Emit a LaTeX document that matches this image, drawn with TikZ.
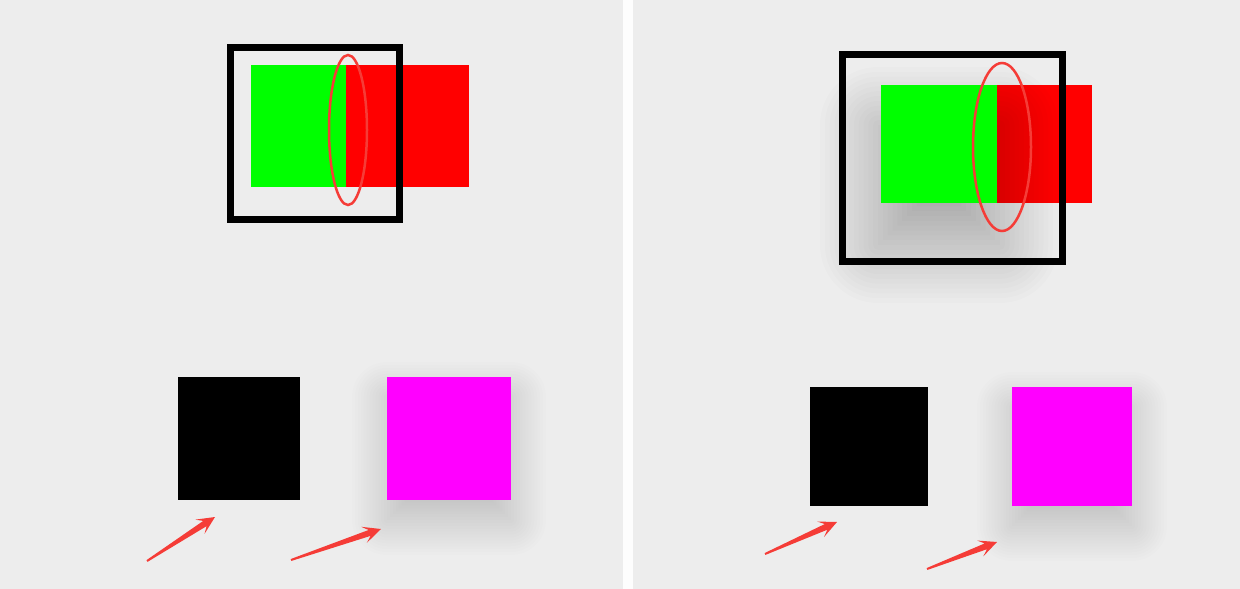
\documentclass[tikz,border=0pt]{standalone}
\usetikzlibrary{calc}
\definecolor{panelbg}{HTML}{EDEDED}
\definecolor{sepwhite}{HTML}{FDFDFD}
\definecolor{pgreen}{HTML}{00FF00}
\definecolor{pred}{HTML}{FF0000}
\definecolor{pmagenta}{HTML}{FF00FF}
\definecolor{markred}{RGB}{245,60,55}
\tikzset{
  frame/.style={draw=black, line width=7pt},
  mark ellipse/.style={draw=markred, line width=2.5pt},
  swatch/.style={fill=#1},
}
% soft blurred shadow: x1,y1,x2,y2,blur,alpha
\newcommand{\softshadow}[6]{%
  \pgfmathsetmacro\shA{1-(1-#6)^(1/24)}%
  \foreach \k in {1,...,24}{%
    \pgfmathsetmacro\shE{#5*(2*\k/24-1)}%
    \pgfmathsetmacro\shR{max(\shE,0.1)}%
    \fill[black, fill opacity=\shA, rounded corners=\shR pt]
      ({#1-\shE},{#2-\shE}) rectangle ({#3+\shE},{#4+\shE});
  }%
}
% tapered red arrow from coordinate #1 (tail) to #2 (tip)
\newcommand{\fatarrow}[2]{%
  \coordinate (#1J) at ($(#2)!12pt!(#1)$);
  \coordinate (#1K) at ($(#2)!18pt!(#1)$);
  \fill[markred]
    ($(#1)!1pt!90:(#2)$) -- ($(#1J)!3.1pt!90:(#2)$) -- ($(#1K)!8.5pt!90:(#2)$)
    -- (#2) -- ($(#1K)!8.5pt!-90:(#2)$) -- ($(#1J)!3.1pt!-90:(#2)$)
    -- ($(#1)!1pt!-90:(#2)$) -- cycle;
}
\begin{document}
\begin{tikzpicture}[x=1pt,y=-1pt]
\useasboundingbox (0,0) rectangle (1240,589);
% panels
\fill[panelbg] (0,0) rectangle (623,589);
\fill[panelbg] (633,0) rectangle (1240,589);
\fill[sepwhite] (623,0) rectangle (633,589);

% ---------- left panel ----------
\fill[swatch=pgreen] (251,65) rectangle (346,187);
\fill[swatch=pred] (346,65) rectangle (469,187);
\draw[frame] (230.5,47.5) rectangle (399.5,219.5);
\draw[mark ellipse] (348,130) ellipse [x radius=19, y radius=75];

\fill[swatch=black] (178,377) rectangle (300,500);
\softshadow{387}{397}{511}{520}{35}{0.2}
\fill[swatch=pmagenta] (387,377) rectangle (511,500);

\coordinate (la1t) at (147,561); \coordinate (la1h) at (215,517);
\coordinate (la2t) at (291,560); \coordinate (la2h) at (381,529);
\fatarrow{la1t}{la1h}
\fatarrow{la2t}{la2h}

% ---------- right panel ----------
\fill[swatch=pred] (997,85) rectangle (1092,203);
\softshadow{878}{125}{1000}{245}{58}{0.23}
\fill[swatch=pgreen] (881,85) rectangle (997,203);
\draw[frame] (842.5,54.5) rectangle (1062.5,261.5);
\draw[mark ellipse] (1002,147) ellipse [x radius=29, y radius=84];

\fill[swatch=black] (810,387) rectangle (928,506);
\softshadow{1012}{407}{1132}{526}{35}{0.2}
\fill[swatch=pmagenta] (1012,387) rectangle (1132,506);

\coordinate (ra1t) at (765,554); \coordinate (ra1h) at (837,522);
\coordinate (ra2t) at (927,569); \coordinate (ra2h) at (997,542);
\fatarrow{ra1t}{ra1h}
\fatarrow{ra2t}{ra2h}
\end{tikzpicture}
\end{document}
